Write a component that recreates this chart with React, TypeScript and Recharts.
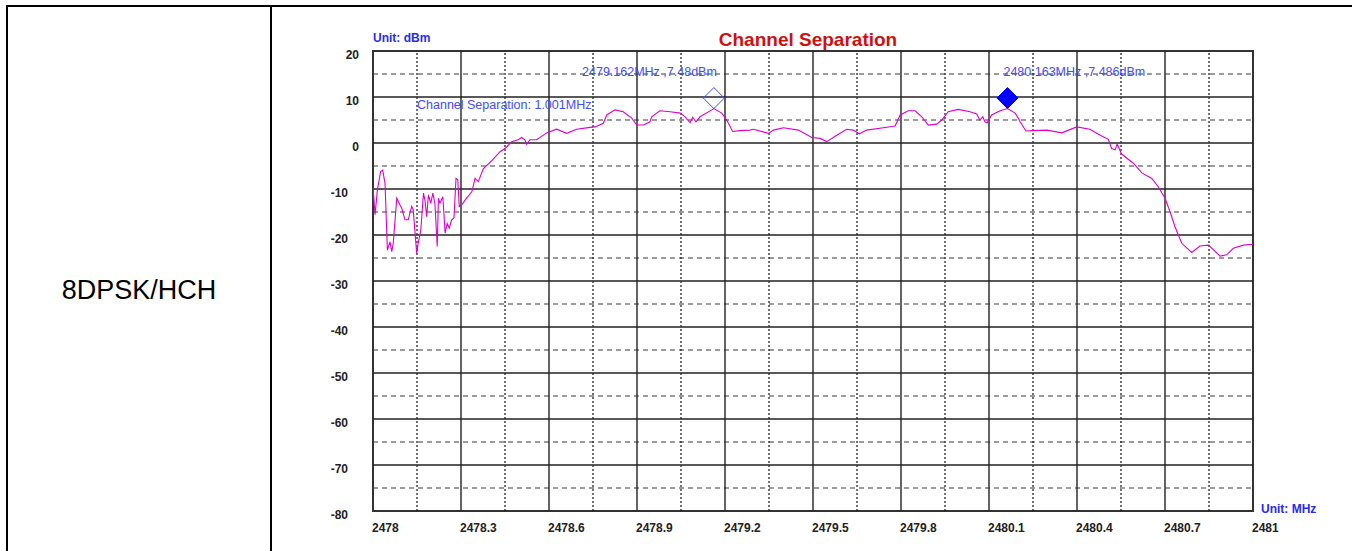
import {
  ComposedChart,
  Line,
  Scatter,
  XAxis,
  YAxis,
  ReferenceLine,
  ReferenceArea,
} from "recharts";

// spectrum trace (MHz / dBm)
const TRACE_FREQ = [
  2478.0, 2478.007, 2478.015, 2478.026, 2478.033, 2478.041, 2478.049, 2478.058,
  2478.064, 2478.069, 2478.081, 2478.092, 2478.098, 2478.109, 2478.12, 2478.132,
  2478.137, 2478.149, 2478.154, 2478.163, 2478.172, 2478.177, 2478.183, 2478.189,
  2478.197, 2478.204, 2478.211, 2478.219, 2478.223, 2478.228, 2478.238, 2478.246,
  2478.253, 2478.26, 2478.268, 2478.276, 2478.283, 2478.289, 2478.294, 2478.302,
  2478.319, 2478.337, 2478.348, 2478.359, 2478.376, 2478.41, 2478.433, 2478.45,
  2478.473, 2478.495, 2478.507, 2478.518, 2478.524, 2478.535, 2478.558, 2478.592,
  2478.626, 2478.66, 2478.694, 2478.74, 2478.757, 2478.785, 2478.797, 2478.825,
  2478.853, 2478.882, 2478.899, 2478.922, 2478.944, 2478.95, 2478.978, 2479.013,
  2479.047, 2479.064, 2479.081, 2479.09, 2479.101, 2479.115, 2479.155, 2479.162,
  2479.189, 2479.206, 2479.226, 2479.251, 2479.285, 2479.297, 2479.348, 2479.365,
  2479.399, 2479.45, 2479.496, 2479.524, 2479.547, 2479.581, 2479.615, 2479.637,
  2479.658, 2479.683, 2479.74, 2479.78, 2479.797, 2479.825, 2479.848, 2479.871,
  2479.893, 2479.922, 2479.939, 2479.961, 2479.995, 2480.035, 2480.058, 2480.069,
  2480.079, 2480.086, 2480.094, 2480.109, 2480.138, 2480.163, 2480.189, 2480.2,
  2480.206, 2480.226, 2480.251, 2480.297, 2480.348, 2480.399, 2480.444, 2480.479,
  2480.507, 2480.518, 2480.53, 2480.537, 2480.552, 2480.592, 2480.621, 2480.655,
  2480.677, 2480.7, 2480.717, 2480.734, 2480.757, 2480.791, 2480.819, 2480.848,
  2480.888, 2480.91, 2480.933, 2480.967, 2481.0,
];
const TRACE_LEVEL = [
  -9.5, -15.6, -10.2, -6.2, -5.9, -8.8, -23.3, -21.5,
  -23.6, -21.8, -12.0, -13.5, -14.2, -16.7, -16.7, -13.8,
  -14.5, -24.0, -21.8, -18.9, -10.9, -12.4, -16.0, -11.3,
  -13.1, -10.9, -13.1, -22.5, -12.0, -13.1, -11.7, -19.6,
  -17.5, -18.5, -16.7, -16.3, -7.7, -8.0, -13.8, -13.5,
  -12.0, -10.6, -7.7, -8.4, -5.6, -3.5, -1.9, -1.2,
  0.3, 0.7, 1.2, 0.7, -0.3, 0.7, 0.7, 2.2,
  3.0, 2.1, 3.0, 3.4, 3.5, 4.3, 6.1, 7.2,
  6.8, 5.4, 3.9, 3.9, 4.6, 5.7, 7.0, 6.8,
  6.5, 5.7, 4.4, 5.6, 4.6, 5.7, 7.2, 7.48,
  6.5, 5.0, 2.5, 2.7, 2.8, 3.0, 2.1, 2.8,
  3.3, 2.8, 1.2, 1.0, 0.3, 1.7, 3.0, 2.8,
  2.0, 2.8, 3.3, 3.7, 6.1, 7.0, 7.0, 5.7,
  3.9, 4.1, 5.0, 6.8, 7.3, 6.8, 6.3, 5.0,
  5.7, 4.6, 4.4, 6.1, 7.0, 7.486, 6.5, 5.4,
  4.6, 2.6, 2.7, 2.8, 2.2, 3.5, 3.0, 1.7,
  0.8, -1.2, -1.5, -0.2, -2.4, -4.4, -6.5, -7.7,
  -9.5, -12.0, -14.9, -18.2, -21.8, -23.8, -22.4, -22.2,
  -24.6, -24.3, -22.9, -22.2, -22.0,
];

const MARKER_FREQ = [2479.162, 2480.163];
const MARKER_LEVEL = [7.48, 7.486];
const MARKER_TEXT = ["2479.162MHz ,7.48dBm", "2480.163MHz ,7.486dBm"];

const X_TICKS = [2478, 2478.3, 2478.6, 2478.9, 2479.2, 2479.5, 2479.8, 2480.1, 2480.4, 2480.7, 2481];
const X_LABELS = ["2478", "2478.3", "2478.6", "2478.9", "2479.2", "2479.5", "2479.8", "2480.1", "2480.4", "2480.7", "2481"];
const X_MINOR = [2478.15, 2478.45, 2478.75, 2479.05, 2479.35, 2479.65, 2479.95, 2480.25, 2480.55, 2480.85];
const Y_TICKS = [20, 10, 0, -10, -20, -30, -40, -50, -60, -70, -80];
const Y_MINOR = [15, 5, -5, -15, -25, -35, -45, -55, -65, -75];

const traceData = TRACE_FREQ.map((f, i) => ({ f, v: TRACE_LEVEL[i] }));
const markerData = MARKER_FREQ.map((f, i) => ({
  f,
  v: MARKER_LEVEL[i],
  text: MARKER_TEXT[i],
  filled: i === 1,
}));

const FONT = "'Liberation Sans', Arial, sans-serif";
const BLUE = "#2a2af0";
const ANNOT = "#3f4cff";
const TRACE = "#dd00cc";
const GRID = "#3a3a3a";
const PLOT_BOTTOM = 511;

function XTick({ x, payload }: any) {
  const idx = X_TICKS.indexOf(payload.value);
  return (
    <text x={x - 1} y={PLOT_BOTTOM + 21} textAnchor="start" fontFamily={FONT} fontSize={12} fontWeight="bold" fill="#222">
      {X_LABELS[idx] ?? String(payload.value)}
    </text>
  );
}

// the analyzer puts negative labels further left than positive ones
function YTick({ y, payload }: any) {
  const right = payload.value < 0 ? 348 : 359;
  return (
    <text x={right} y={y + 8} textAnchor="end" fontFamily={FONT} fontSize={12} fontWeight="bold" fill="#222">
      {payload.value}
    </text>
  );
}

function MarkerShape({ cx, cy, payload }: any) {
  const s = 10.5;
  const c = cy - s;
  const pts = `${cx},${c - s} ${cx + s},${c} ${cx},${c + s} ${cx - s},${c}`;
  return (
    <g>
      <polygon
        points={pts}
        fill={payload.filled ? "#0000ff" : "none"}
        stroke={payload.filled ? "#0000ff" : "#3f4cff"}
        strokeWidth={1}
      />
      <text
        x={payload.filled ? cx - 4 : cx + 3}
        y={cy - 33}
        textAnchor={payload.filled ? "start" : "end"}
        fontFamily={FONT}
        fontSize={12.5}
        fill={ANNOT}
      >
        {payload.text}
      </text>
    </g>
  );
}

export default function App() {
  return (
    <div style={{ position: "absolute", left: 0, top: 0, width: 1352, height: 551, background: "#fff", overflow: "hidden", fontFamily: FONT }}>
      {/* table cell borders */}
      <div style={{ position: "absolute", left: 6, top: 5, width: 1346, height: 2, background: "#000" }} />
      <div style={{ position: "absolute", left: 6, top: 5, width: 2, height: 546, background: "#000" }} />
      <div style={{ position: "absolute", left: 270, top: 5, width: 2, height: 546, background: "#000" }} />
      <div style={{ position: "absolute", left: 8, width: 262, top: 275, textAlign: "center", fontSize: 27, color: "#000" }}>
        8DPSK/HCH
      </div>

      <ComposedChart
        width={1352}
        height={551}
        margin={{ top: 51, right: 99, bottom: 10, left: 313 }}
        style={{ position: "absolute", left: 0, top: 0 }}
      >
        <XAxis
          type="number"
          dataKey="f"
          domain={[2478, 2481]}
          ticks={X_TICKS}
          interval={0}
          allowDataOverflow
          axisLine={false}
          tickLine={false}
          height={30}
          tick={<XTick />}
        />
        <YAxis
          type="number"
          dataKey="v"
          domain={[-80, 20]}
          ticks={Y_TICKS}
          interval={0}
          allowDataOverflow
          axisLine={false}
          tickLine={false}
          width={60}
          tick={<YTick />}
        />
        {Y_MINOR.map((v) => (
          <ReferenceLine key={"hy" + v} y={v} stroke={GRID} strokeWidth={1.2} strokeDasharray="5 4" />
        ))}
        {X_MINOR.map((f) => (
          <ReferenceLine key={"vx" + f} x={f} stroke="#111" strokeWidth={1.2} strokeDasharray="2 2" />
        ))}
        {Y_TICKS.slice(1, -1).map((v) => (
          <ReferenceLine key={"y" + v} y={v} stroke="#222" strokeWidth={1.4} />
        ))}
        {X_TICKS.slice(1, -1).map((f) => (
          <ReferenceLine key={"x" + f} x={f} stroke="#222" strokeWidth={1.4} />
        ))}
        <ReferenceArea x1={2478} x2={2481} y1={-80} y2={20} fill="none" stroke="#333" strokeWidth={2} />
        <Line
          data={traceData}
          dataKey="v"
          type="linear"
          stroke={TRACE}
          strokeWidth={1.1}
          dot={false}
          activeDot={false}
          isAnimationActive={false}
        />
        <Scatter data={markerData} dataKey="v" shape={<MarkerShape />} isAnimationActive={false} />
      </ComposedChart>

      {/* chart texts */}
      <div style={{ position: "absolute", left: 373, top: 31, fontSize: 12, fontWeight: "bold", color: BLUE }}>Unit: dBm</div>
      <div style={{ position: "absolute", left: 708, width: 200, top: 29, textAlign: "center", fontSize: 19, fontWeight: "bold", color: "#d01010" }}>
        Channel Separation
      </div>
      <div style={{ position: "absolute", left: 417, top: 98, fontSize: 12.5, color: ANNOT }}>Channel Separation: 1.001MHz</div>
      <div style={{ position: "absolute", left: 1261, top: 502, fontSize: 12, fontWeight: "bold", color: BLUE }}>Unit: MHz</div>
    </div>
  );
}
